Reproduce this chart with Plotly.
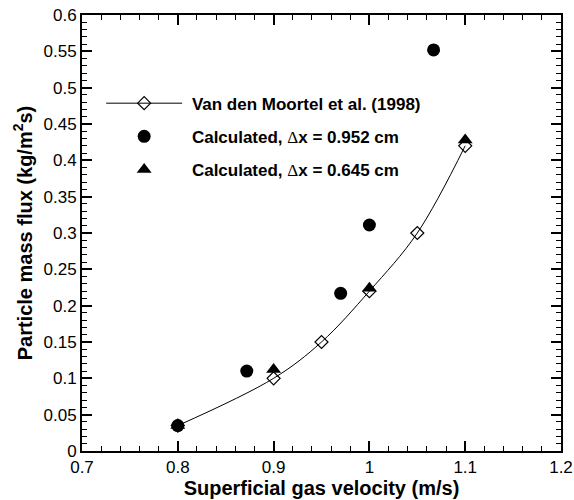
import plotly.graph_objects as go

# Data
vdm_x = [0.8, 0.9, 0.95, 1.0, 1.05, 1.1]
vdm_y = [0.035, 0.1, 0.15, 0.22, 0.3, 0.42]
calc952_x = [0.8, 0.872, 0.97, 1.0, 1.067]
calc952_y = [0.035, 0.11, 0.217, 0.311, 0.552]
calc645_x = [0.8, 0.9, 1.0, 1.1]
calc645_y = [0.035, 0.112, 0.224, 0.428]

x_ticks = [0.7, 0.8, 0.9, 1.0, 1.1, 1.2]
x_ticklabels = ["0.7", "0.8", "0.9", "1", "1.1", "1.2"]
y_ticks = [0, 0.05, 0.1, 0.15, 0.2, 0.25, 0.3, 0.35, 0.4, 0.45, 0.5, 0.55, 0.6]
y_ticklabels = ["0", "0.05", "0.1", "0.15", "0.2", "0.25", "0.3", "0.35", "0.4", "0.45", "0.5", "0.55", "0.6"]

FONT = "Liberation Sans, Arial, Helvetica, sans-serif"
DELTA = "<span style='font-family:Liberation Serif, Times New Roman, serif;font-weight:normal'>Δ</span>"
NB = "\u00a0"

fig = go.Figure()
fig.add_trace(go.Scatter(
    x=vdm_x, y=vdm_y, mode="lines+markers", line=dict(color="black", width=1, shape="spline"),
    marker=dict(symbol="diamond-open", size=10, color="black", line=dict(width=1.2)),
    legendgroup="a",
    name=NB + "<b>Van den Moortel et al. (1998)</b>"))
fig.add_trace(go.Scatter(
    x=calc952_x, y=calc952_y, mode="markers",
    marker=dict(symbol="circle", size=13, color="black"),
    legendgroup="b",
    name=NB + "<b>Calculated, </b>" + DELTA + "<b>x = 0.952 cm</b>"))
fig.add_trace(go.Scatter(
    x=calc645_x, y=calc645_y, mode="markers",
    marker=dict(symbol="triangle-up", size=13, color="black"),
    legendgroup="c",
    name=NB + "<b>Calculated, </b>" + DELTA + "<b>x = 0.645 cm</b>"))

axis_common = dict(
    showgrid=False, zeroline=False, showline=True, linecolor="black", linewidth=2,
    mirror="allticks", ticks="inside", ticklen=10, tickwidth=1.5, tickcolor="black",
    tickfont=dict(family=FONT, size=17, color="black"), automargin=False,
)

fig.update_xaxes(
    range=[0.7, 1.2], tickvals=x_ticks, ticktext=x_ticklabels,
    minor=dict(dtick=0.02, ticks="inside", ticklen=5, tickcolor="black", tickwidth=1),
    title=dict(text="<b>Superficial gas velocity (m/s)</b>", font=dict(family=FONT, size=20, color="black"), standoff=0),
    **axis_common)
fig.update_yaxes(
    range=[0, 0.6], tickvals=y_ticks, ticktext=y_ticklabels,
    minor=dict(dtick=0.01, ticks="inside", ticklen=5, tickcolor="black", tickwidth=1),
    title=dict(text="<b>Particle mass flux (kg/m<sup>2</sup>s)</b>", font=dict(family=FONT, size=20, color="black"), standoff=6),
    **axis_common)

fig.update_layout(
    width=574, height=500,
    margin=dict(l=82, r=13, t=15, b=49),
    plot_bgcolor="white", paper_bgcolor="white",
    font=dict(family=FONT, color="black"),
    showlegend=True,
    legend=dict(x=0.04, y=0.838, xanchor="left", yanchor="top", bgcolor="rgba(0,0,0,0)",
                font=dict(family=FONT, size=17, color="black"), itemwidth=76, tracegroupgap=8),
)

fig.write_html("out.html")
